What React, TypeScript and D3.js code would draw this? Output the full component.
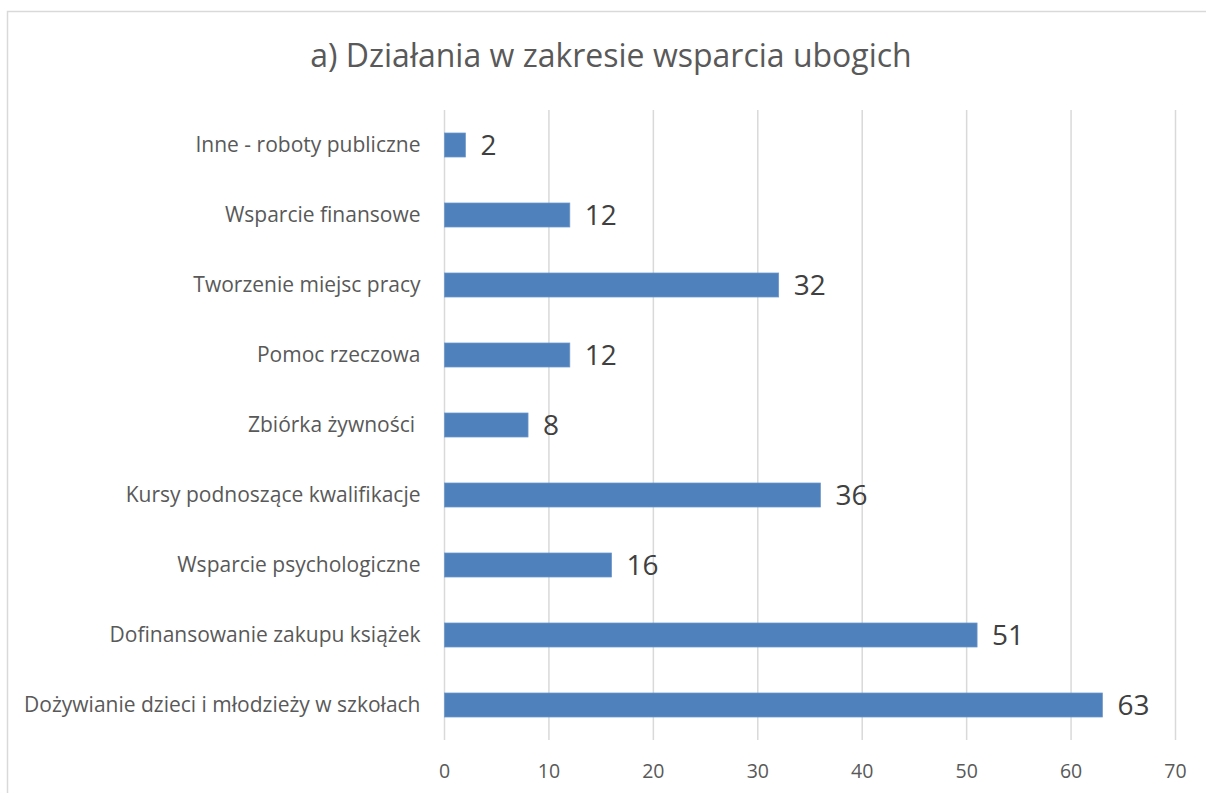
import React from "react";
import * as d3 from "d3";

const categories = [
  "Inne - roboty publiczne",
  "Wsparcie finansowe",
  "Tworzenie miejsc pracy",
  "Pomoc rzeczowa",
  "Zbiórka żywności ",
  "Kursy podnoszące kwalifikacje",
  "Wsparcie psychologiczne",
  "Dofinansowanie zakupu książek",
  "Dożywianie dzieci i młodzieży w szkołach",
];
const values = [2, 12, 32, 12, 8, 36, 16, 51, 63];
const xTicks = [0, 10, 20, 30, 40, 50, 60, 70];
const title = "a) Działania w zakresie wsparcia ubogich";

const W = 1206;
const H = 793;
const FONT = "'Open Sans', sans-serif";

export default function App() {
  const ref = React.useRef<SVGSVGElement>(null);

  React.useEffect(() => {
    const svg = d3.select(ref.current);
    svg.selectAll("*").remove();

    const plot = { left: 444.5, right: 1175.5, top: 110, bottom: 740 };

    const x = d3.scaleLinear().domain([0, 70]).range([plot.left, plot.right]);
    const y = d3
      .scaleBand()
      .domain(categories)
      .range([plot.top, plot.bottom])
      .paddingInner(0.657)
      .paddingOuter(0.3285);

    // chart border
    svg
      .append("rect")
      .attr("x", 7.5)
      .attr("y", 11.5)
      .attr("width", W + 20)
      .attr("height", H + 20)
      .attr("fill", "#fff")
      .attr("stroke", "#d9d9d9")
      .attr("stroke-width", 1.5);

    svg
      .append("text")
      .attr("x", 611)
      .attr("y", 67)
      .attr("text-anchor", "middle")
      .attr("fill", "#595959")
      .style("font-family", FONT)
      .style("font-size", "32px")
      .text(title);

    // gridlines
    svg
      .append("g")
      .selectAll("line")
      .data(xTicks)
      .join("line")
      .attr("x1", (d) => x(d))
      .attr("x2", (d) => x(d))
      .attr("y1", plot.top)
      .attr("y2", plot.bottom)
      .attr("stroke", "#d9d9d9")
      .attr("stroke-width", 1.5);

    svg
      .append("g")
      .selectAll("text")
      .data(xTicks)
      .join("text")
      .attr("x", (d) => x(d))
      .attr("y", 771)
      .attr("dy", "0.35em")
      .attr("text-anchor", "middle")
      .attr("fill", "#595959")
      .style("font-family", FONT)
      .style("font-size", "19.5px")
      .text((d) => d);

    const rows = svg
      .append("g")
      .selectAll("g")
      .data(categories)
      .join("g");

    rows
      .append("rect")
      .attr("x", x(0))
      .attr("y", (d) => y(d)!)
      .attr("width", (d, i) => x(values[i]) - x(0))
      .attr("height", y.bandwidth())
      .attr("fill", "#4f81bd")
      .attr("stroke", "#6f97c8")
      .attr("stroke-width", 0.75);

    rows
      .append("text")
      .attr("x", plot.left - 24)
      .attr("y", (d) => y(d)! + y.bandwidth() / 2)
      .attr("dy", "0.35em")
      .attr("text-anchor", "end")
      .attr("fill", "#595959")
      .attr("xml:space", "preserve")
      .style("white-space", "pre")
      .style("font-family", FONT)
      .style("font-size", "21px")
      .text((d) => d);

    rows
      .append("text")
      .attr("x", (d, i) => x(values[i]) + 15)
      .attr("y", (d) => y(d)! + y.bandwidth() / 2)
      .attr("dy", "0.36em")
      .attr("fill", "#404040")
      .style("font-family", FONT)
      .style("font-size", "28px")
      .text((d, i) => values[i]);
  }, []);

  return (
    <svg
      ref={ref}
      width={W}
      height={H}
      style={{ position: "absolute", left: 0, top: 0, background: "#fff" }}
    />
  );
}
